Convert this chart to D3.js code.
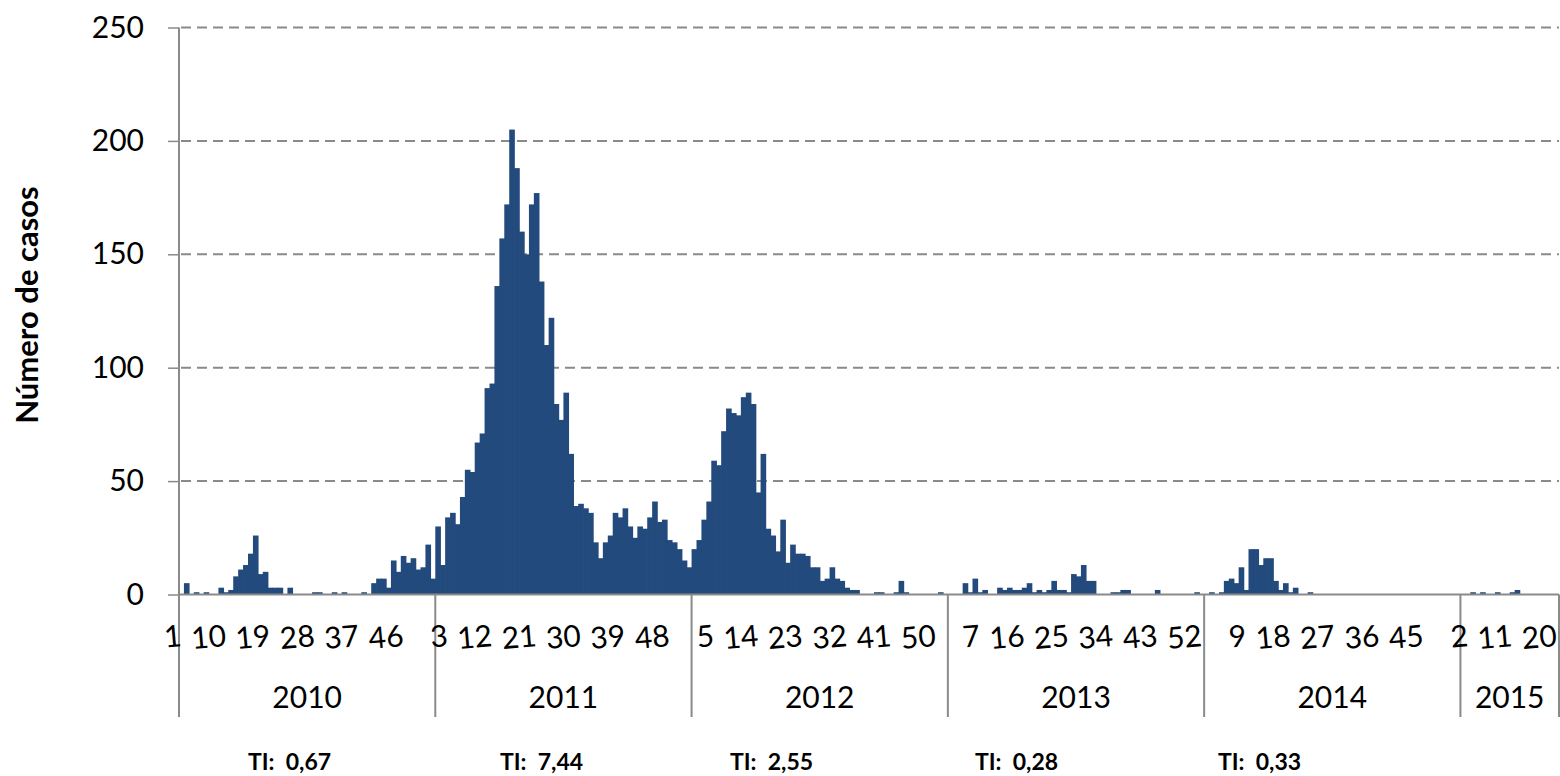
<!DOCTYPE html>
<html>
<head>
<meta charset="utf-8">
<script src="https://cdn.jsdelivr.net/npm/d3@7"></script>
<style>
  body { margin: 0; background: #fff; }
  text { font-family: Lato, "Open Sans", sans-serif; fill: #000; }
</style>
</head>
<body>
<div id="chart"></div>
<script>
// Weekly cases per year
var years = ["2010", "2011", "2012", "2013", "2014", "2015"];

var cases2010 = [0, 5, 0, 1, 0, 1, 0, 0, 3, 1, 2, 8, 11, 13, 18, 26, 9, 10, 3, 3,
                 3, 0, 3, 0, 0, 0, 0, 1, 1, 0, 0, 1, 0, 1, 0, 0, 0, 1, 0, 5,
                 7, 7, 3, 15, 10, 17, 14, 16, 11, 12, 22, 7];
var cases2011 = [30, 13, 34, 36, 31, 43, 55, 54, 67, 71, 91, 93, 136, 157, 172, 205, 188, 160, 150, 172,
                 177, 138, 110, 122, 84, 77, 89, 62, 39, 40, 38, 36, 23, 16, 23, 26, 36, 34, 38, 30,
                 25, 30, 29, 34, 41, 32, 33, 24, 23, 20, 15, 12];
var cases2012 = [20, 24, 33, 41, 59, 57, 72, 82, 80, 79, 87, 89, 84, 45, 62, 29, 26, 19, 33, 14,
                 22, 18, 18, 17, 12, 12, 6, 7, 12, 7, 6, 3, 2, 2, 0, 0, 0, 1, 1, 0,
                 0, 1, 6, 1, 0, 0, 0, 0, 0, 0, 1, 0];
var cases2013 = [0, 0, 0, 5, 1, 7, 1, 2, 0, 0, 3, 2, 3, 2, 2, 3, 5, 1, 2, 1,
                 2, 6, 2, 2, 1, 9, 8, 13, 6, 6, 0, 0, 0, 1, 1, 2, 2, 0, 0, 0,
                 0, 0, 2, 0, 0, 0, 0, 0, 0, 0, 1, 0];
var cases2014 = [0, 1, 0, 1, 6, 7, 5, 12, 2, 20, 20, 13, 16, 16, 6, 2, 5, 1, 3, 0,
                 0, 1, 0, 0, 0, 0, 0, 0, 0, 0, 0, 0, 0, 0, 0, 0, 0, 0, 0, 0,
                 0, 0, 0, 0, 0, 0, 0, 0, 0, 0, 0, 0];
var cases2015 = [0, 0, 1, 0, 1, 0, 0, 1, 0, 0, 1, 2, 0, 0, 0, 0, 0, 0, 0, 0];

var yTicks = [0, 50, 100, 150, 200, 250];
var tiLabels = ["TI:  0,67", "TI:  7,44", "TI:  2,55", "TI:  0,28", "TI:  0,33"];

// Flatten into one list of bars
var series = [cases2010, cases2011, cases2012, cases2013, cases2014, cases2015];
var data = [];
series.forEach(function (arr, yi) {
    arr.forEach(function (v, wi) {
        data.push({ year: years[yi], week: wi + 1, value: v, idx: data.length });
    });
});

var W = 1560, H = 776;
var plotLeft = 179, plotRight = 1559, plotTop = 27.5, base = 594.5, bottomLine = 717;

var svg = d3.select("#chart").append("svg")
    .attr("width", W)
    .attr("height", H);

var x = d3.scaleBand()
    .domain(data.map(function (d) { return d.idx; }))
    .range([plotLeft, plotRight])
    .paddingInner(0)
    .paddingOuter(0);

var y = d3.scaleLinear().domain([0, 250]).range([base, plotTop]);

// dashed gridlines
svg.append("g")
    .selectAll("line")
    .data(yTicks.filter(function (t) { return t > 0; }))
    .enter().append("line")
    .attr("x1", plotLeft + 2).attr("x2", plotRight)
    .attr("y1", function (d) { return y(d); })
    .attr("y2", function (d) { return y(d); })
    .style("stroke", "#8a8a8a")
    .style("stroke-width", 2)
    .style("stroke-dasharray", "10,6");

// bars (slightly widened so neighbours touch without seams)
svg.append("g")
    .selectAll("rect")
    .data(data.filter(function (d) { return d.value > 0; }))
    .enter().append("rect")
    .attr("x", function (d) { return x(d.idx); })
    .attr("width", x.bandwidth() + 0.7)
    .attr("y", function (d) { return y(d.value); })
    .attr("height", function (d) { return base - y(d.value); })
    .style("fill", "#224a7c");

// y axis
var yAxis = d3.axisLeft(y).tickValues(yTicks).tickSize(11).tickPadding(24);
var gy = svg.append("g")
    .attr("transform", "translate(" + plotLeft + ",0)")
    .call(yAxis);
gy.select(".domain").remove();
gy.selectAll(".tick line").style("stroke", "#8a8a8a").style("stroke-width", 1.5);
gy.selectAll(".tick text")
    .style("font-size", "30px")
    .style("font-family", "Lato, 'Open Sans', sans-serif")
    .attr("fill", "#000");

// axis lines
svg.append("line")
    .attr("x1", plotLeft).attr("x2", plotLeft)
    .attr("y1", plotTop).attr("y2", bottomLine)
    .style("stroke", "#8a8a8a").style("stroke-width", 2);
svg.append("line")
    .attr("x1", plotLeft).attr("x2", plotRight)
    .attr("y1", base).attr("y2", base)
    .style("stroke", "#8a8a8a").style("stroke-width", 2);

// year group boundaries
var yearStart = years.map(function (yr) {
    return d3.min(data.filter(function (d) { return d.year === yr; }), function (d) { return d.idx; });
});
var yearEnd = years.map(function (yr) {
    return d3.max(data.filter(function (d) { return d.year === yr; }), function (d) { return d.idx; });
});
var bounds = yearStart.map(function (s) { return x(s); })
    .concat([x(yearEnd[yearEnd.length - 1]) + x.bandwidth()]);

svg.append("g")
    .selectAll("line")
    .data(bounds)
    .enter().append("line")
    .attr("x1", function (d) { return d; })
    .attr("x2", function (d) { return d; })
    .attr("y1", base).attr("y2", bottomLine)
    .style("stroke", "#8a8a8a").style("stroke-width", 2);

// week labels (every 9th week)
svg.append("g")
    .selectAll("text")
    .data(data.filter(function (d) { return d.idx % 9 === 0; }))
    .enter().append("text")
    .attr("x", function (d) { return x(d.idx) + x.bandwidth() / 2 + 1; })
    .attr("y", 646)
    .attr("transform", function (d) {
        return "rotate(-5," + (x(d.idx) + x.bandwidth() / 2 + 1) + ",646)";
    })
    .attr("text-anchor", "end")
    .style("font-size", "30px")
    .text(function (d) { return d.week; });

// year labels
svg.append("g")
    .selectAll("text")
    .data(years)
    .enter().append("text")
    .attr("x", function (d, i) { return (bounds[i] + bounds[i + 1]) / 2; })
    .attr("y", 708)
    .attr("text-anchor", "middle")
    .style("font-size", "30px")
    .text(function (d) { return d; });

// y axis title
svg.append("text")
    .attr("transform", "translate(38,305) rotate(-90)")
    .attr("text-anchor", "middle")
    .style("font-size", "31px")
    .style("font-weight", "bold")
    .text("Número de casos");

// TI annotations under the years
var tiX = [248, 500, 730, 975, 1218];
svg.append("g")
    .selectAll("text")
    .data(tiLabels)
    .enter().append("text")
    .attr("x", function (d, i) { return tiX[i]; })
    .attr("y", 770)
    .style("font-size", "23px")
    .style("font-weight", "bold")
    .style("white-space", "pre")
    .text(function (d) { return d; });
</script>
</body>
</html>
